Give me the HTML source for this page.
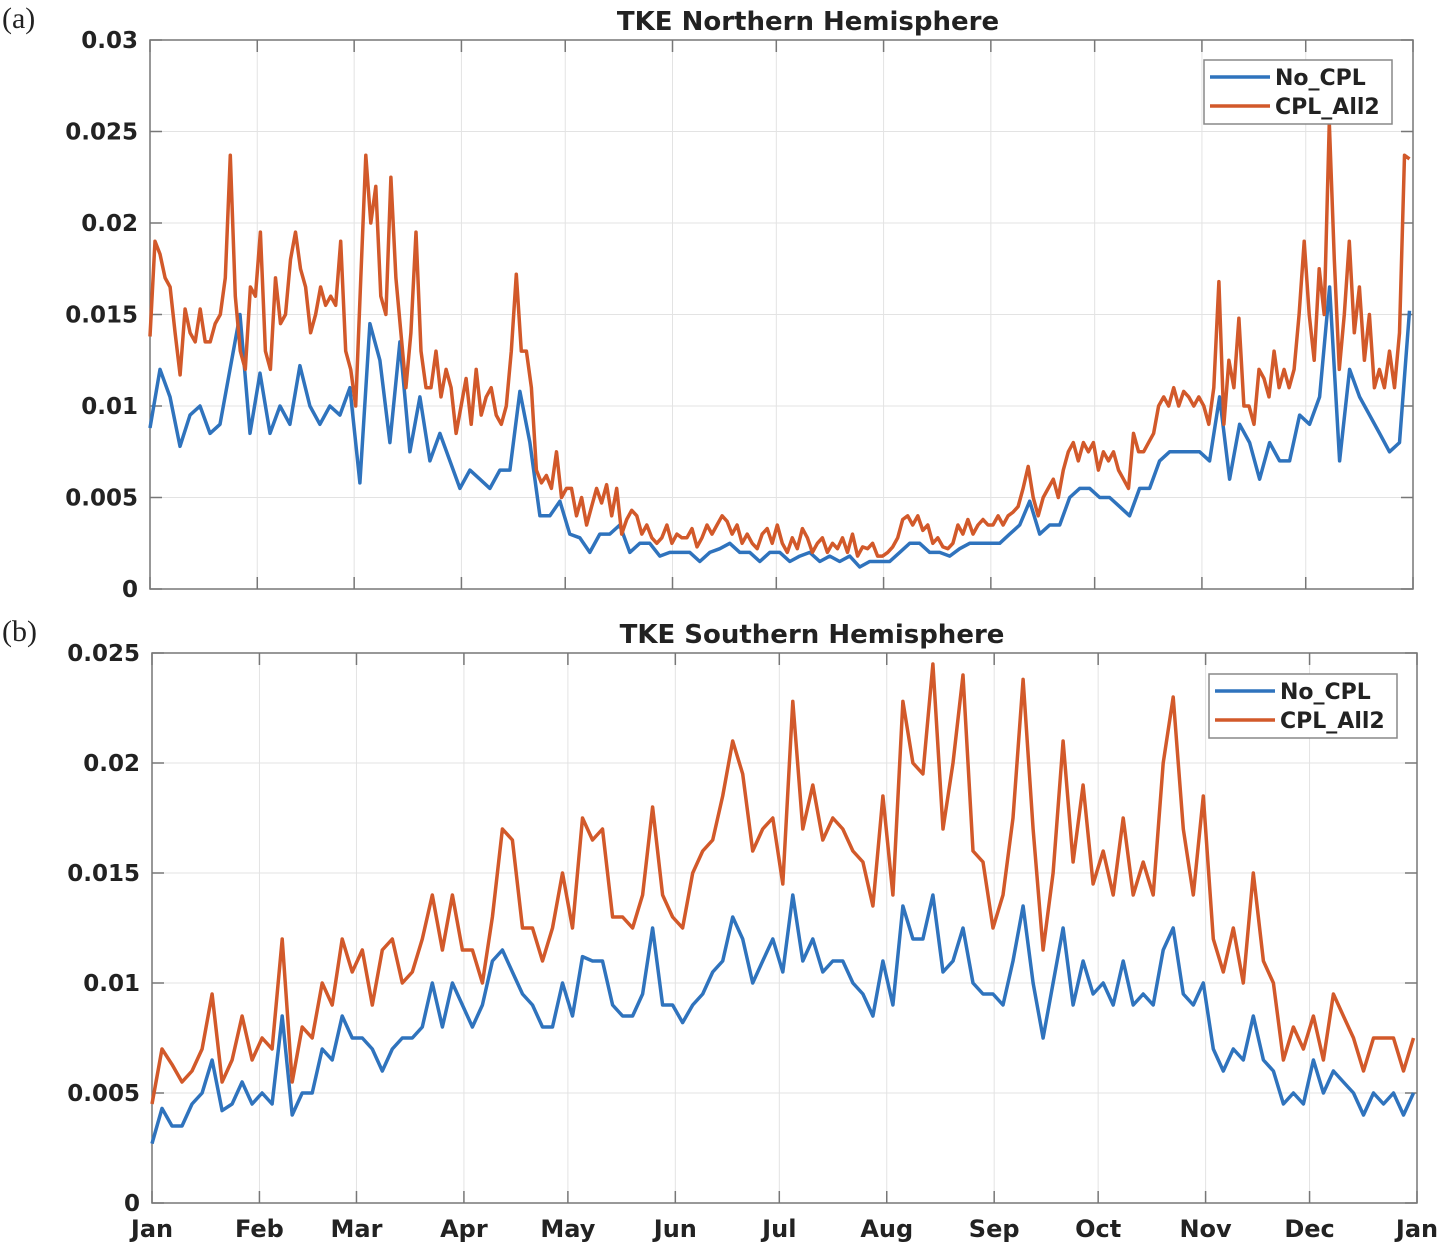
<!DOCTYPE html>
<html><head><meta charset="utf-8"><style>
body{margin:0;background:#fff;}
svg text{font-family:"DejaVu Sans","Liberation Sans",sans-serif;font-weight:bold;fill:#222;}
</style></head><body>
<svg id="chart" width="1442" height="1245" xmlns="http://www.w3.org/2000/svg"></svg>
<script>
// values in units of 1e-3
const monthLabels=["Jan","Feb","Mar","Apr","May","Jun","Jul","Aug","Sep","Oct","Nov","Dec","Jan"];
const monthDays=[0,31,59,90,120,151,181,212,243,273,304,334,365];
const nhTicks=[0,0.005,0.01,0.015,0.02,0.025,0.03];
const nhTickLabels=["0","0.005","0.01","0.015","0.02","0.025","0.03"];
const shTicks=[0,0.005,0.01,0.015,0.02,0.025];
const shTickLabels=["0","0.005","0.01","0.015","0.02","0.025"];
const nhCPL=[13.8,19,18.3,17,16.5,14,11.7,15.3,14,13.5,15.3,13.5,13.5,14.5,15,17,23.7,16,13,12,16.5,16,19.5,13,12,17,14.5,15,18,19.5,17.5,16.5,14,15,16.5,15.5,16,15.5,19,13,12,10,17,23.7,20,22,16,15,22.5,17,14,11,14,19.5,13,11,11,13,10.5,12,11,8.5,10,11.5,9,12,9.5,10.5,11,9.5,9,10,13,17.2,13,13,11,6.5,5.8,6.2,5.5,7.5,5,5.5,5.5,4,5,3.5,4.5,5.5,4.7,5.7,4,5.5,3,3.8,4.3,4,3,3.5,2.8,2.5,2.8,3.5,2.5,3,2.8,2.8,3.3,2.3,2.8,3.5,3,3.5,4,3.7,3,3.5,2.5,3,2.5,2.2,3,3.3,2.5,3.5,2.5,2,2.8,2.2,3.3,2.8,2,2.5,2.8,2,2.5,2.2,2.8,2,3,1.8,2.3,2.2,2.5,1.8,1.8,2,2.3,2.8,3.8,4,3.5,4,3.2,3.5,2.5,2.8,2.3,2.2,2.5,3.5,3,3.8,3,3.5,3.8,3.5,3.5,4,3.5,4,4.2,4.5,5.5,6.7,5,4,5,5.5,6,5,6.5,7.5,8,7,8,7.5,8,6.5,7.5,7,7.5,6.5,6,5.5,8.5,7.5,7.5,8,8.5,10,10.5,10,11,10,10.8,10.5,10,10.5,10,9,11,16.8,9,12.5,11,14.8,10,10,9,12,11.5,10.5,13,11,12,11,12,15,19,15,12.5,17.5,15,25.5,18,12,15,19,14,16.5,12.5,15,11,12,11,13,11,14,23.7,23.5];
const nhNoCPL=[8.8,12,10.5,7.8,9.5,10,8.5,9,12,15,8.5,11.8,8.5,10,9,12.2,10,9,10,9.5,11,5.8,14.5,12.5,8,13.5,7.5,10.5,7,8.5,7,5.5,6.5,6,5.5,6.5,6.5,10.8,8,4,4,4.8,3,2.8,2,3,3,3.5,2,2.5,2.5,1.8,2,2,2,1.5,2,2.2,2.5,2,2,1.5,2,2,1.5,1.8,2,1.5,1.8,1.5,1.8,1.2,1.5,1.5,1.5,2,2.5,2.5,2,2,1.8,2.2,2.5,2.5,2.5,2.5,3,3.5,4.8,3,3.5,3.5,5,5.5,5.5,5,5,4.5,4,5.5,5.5,7,7.5,7.5,7.5,7.5,7,10.5,6,9,8,6,8,7,7,9.5,9,10.5,16.5,7,12,10.5,9.5,8.5,7.5,8,15.2];
const shCPL=[4.5,7,6.3,5.5,6,7,9.5,5.5,6.5,8.5,6.5,7.5,7,12,5.5,8,7.5,10,9,12,10.5,11.5,9,11.5,12,10,10.5,12,14,11.5,14,11.5,11.5,10,13,17,16.5,12.5,12.5,11,12.5,15,12.5,17.5,16.5,17,13,13,12.5,14,18,14,13,12.5,15,16,16.5,18.5,21,19.5,16,17,17.5,14.5,22.8,17,19,16.5,17.5,17,16,15.5,13.5,18.5,14,22.8,20,19.5,24.5,17,20,24,16,15.5,12.5,14,17.5,23.8,17,11.5,15,21,15.5,19,14.5,16,14,17.5,14,15.5,14,20,23,17,14,18.5,12,10.5,12.5,10,15,11,10,6.5,8,7,8.5,6.5,9.5,8.5,7.5,6,7.5,7.5,7.5,6,7.5];
const shNoCPL=[2.7,4.3,3.5,3.5,4.5,5,6.5,4.2,4.5,5.5,4.5,5,4.5,8.5,4,5,5,7,6.5,8.5,7.5,7.5,7,6,7,7.5,7.5,8,10,8,10,9,8,9,11,11.5,10.5,9.5,9,8,8,10,8.5,11.2,11,11,9,8.5,8.5,9.5,12.5,9,9,8.2,9,9.5,10.5,11,13,12,10,11,12,10.5,14,11,12,10.5,11,11,10,9.5,8.5,11,9,13.5,12,12,14,10.5,11,12.5,10,9.5,9.5,9,11,13.5,10,7.5,10,12.5,9,11,9.5,10,9,11,9,9.5,9,11.5,12.5,9.5,9,10,7,6,7,6.5,8.5,6.5,6,4.5,5,4.5,6.5,5,6,5.5,5,4,5,4.5,5,4,5];

const NS="http://www.w3.org/2000/svg";
const svg=document.getElementById('chart');
function mk(tag,attrs,parent){const e=document.createElementNS(NS,tag);for(const k in attrs)e.setAttribute(k,attrs[k]);(parent||svg).appendChild(e);return e;}

function panel(p){
  const g=mk('g',{});
  
  
  const xs=d=>p.x0+d/365*(p.x1-p.x0);
  const ys=v=>p.y1-v/p.ymax*(p.y1-p.y0);
  monthDays.forEach((d,i)=>{
    const l=mk('line',{x1:xs(d),x2:xs(d),y1:p.y0,y2:p.y1,stroke:'#e3e3e3','stroke-width':1},g);
    
    
    mk('line',{x1:xs(d),x2:xs(d),y1:p.y1,y2:p.y1-12,stroke:'#777','stroke-width':1.5},g);
    mk('line',{x1:xs(d),x2:xs(d),y1:p.y0,y2:p.y0+12,stroke:'#777','stroke-width':1.5},g);
    if(p.xlabels){
      const t=mk('text',{x:xs(d),y:p.y1+34,'font-size':24,'text-anchor':'middle'},g);
      t.textContent=monthLabels[i];
      
      
    }
  });
  p.ticks.forEach((v,i)=>{
    const l=mk('line',{x1:p.x0,x2:p.x1,y1:ys(v),y2:ys(v),stroke:'#e3e3e3','stroke-width':1},g);
    
    
    mk('line',{x1:p.x0,x2:p.x0+12,y1:ys(v),y2:ys(v),stroke:'#777','stroke-width':1.5},g);
    mk('line',{x1:p.x1,x2:p.x1-12,y1:ys(v),y2:ys(v),stroke:'#777','stroke-width':1.5},g);
    const t=mk('text',{x:p.x0-12,y:ys(v)+8,'font-size':23,'text-anchor':'end'},g);
    t.textContent=p.tickLabels[i];
    
    
  });
  const box=mk('rect',{x:p.x0,y:p.y0,width:p.x1-p.x0,height:p.y1-p.y0,fill:'none',stroke:'#777','stroke-width':1.5},g);
  
  
  const series=[[p.blue,'#2f73bd','no-cpl-line'],[p.orange,'#d2592a','cpl-all2-line']];
  series.forEach(s=>{
    const arr=s[0],n=arr.length;
    const pts=arr.map((v,i)=>xs(i*364/(n-1)).toFixed(1)+','+ys(v/1000).toFixed(1)).join(' ');
    const pl=mk('polyline',{points:pts,fill:'none',stroke:s[1],'stroke-width':3.5,'stroke-linejoin':'round'},g);
    
    
  });
  const tt=mk('text',{x:p.tx,y:p.y0-10,'font-size':26,'text-anchor':'middle'},g);
  tt.textContent=p.title;
  
  
  const lab=mk('text',{x:2,y:p.y0-12,'font-size':30},g);
  lab.textContent=p.label;
  lab.style.fontFamily='"Liberation Serif",serif';lab.style.fontWeight='normal';
  
  
  const lg=mk('g',{},g);
  
  
  mk('rect',{x:p.lx,y:p.ly,width:188,height:64,fill:'#fff',stroke:'#888','stroke-width':1.5},lg);
  [['No_CPL','#2f73bd'],['CPL_All2','#d2592a']].forEach((e,i)=>{
    const yy=p.ly+17+i*29;
    const ln=mk('line',{x1:p.lx+6,x2:p.lx+66,y1:yy,y2:yy,stroke:e[1],'stroke-width':3.5},lg);
    
    
    const t=mk('text',{x:p.lx+71,y:yy+8,'font-size':22},lg);
    t.textContent=e[0];
    
    
  });
}
panel({name:'panel-a-northern',x0:150,x1:1413,y0:40,y1:589,ymax:0.03,ticks:nhTicks,tickLabels:nhTickLabels,blue:nhNoCPL,orange:nhCPL,title:'TKE Northern Hemisphere',tx:808,label:'(a)',lx:1204,ly:60,xlabels:false});
panel({name:'panel-b-southern',x0:152,x1:1417,y0:653,y1:1203,ymax:0.025,ticks:shTicks,tickLabels:shTickLabels,blue:shNoCPL,orange:shCPL,title:'TKE Southern Hemisphere',tx:812,label:'(b)',lx:1209,ly:674,xlabels:true});
</script>
</body></html>
